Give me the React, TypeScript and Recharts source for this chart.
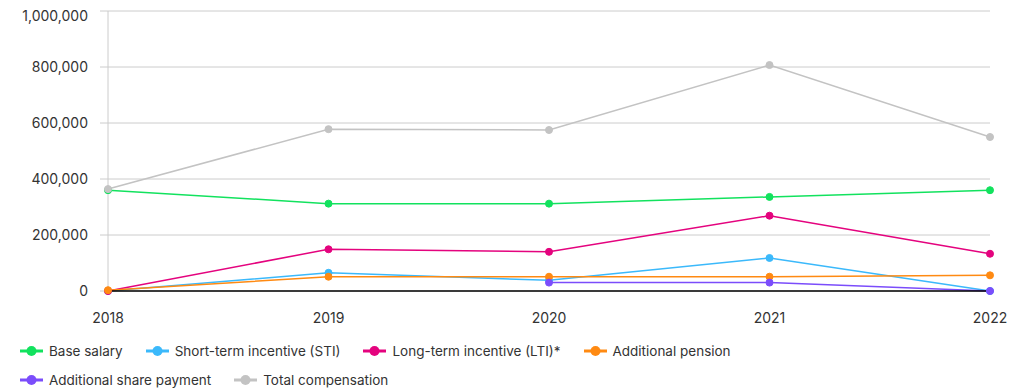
import { LineChart, Line, XAxis, YAxis, CartesianGrid } from "recharts";

const years = ["2018", "2019", "2020", "2021", "2022"];

const baseSalary = [360000, 312000, 312000, 336000, 360000];
const shortTerm = [0, 65000, 38000, 118000, 0];
const longTerm = [0, 149000, 140000, 269000, 133000];
const additionalPension = [3000, 51000, 51000, 51000, 56000];
const sharePayment = [null, null, 30000, 30000, 0];
const totalComp = [364000, 578000, 575000, 807000, 550000];

const yTicks = [0, 200000, 400000, 600000, 800000, 1000000];

const series = [
  { key: "base", name: "Base salary", color: "#12e25e", values: baseSalary },
  { key: "sti", name: "Short-term incentive (STI)", color: "#3bb9fb", values: shortTerm },
  { key: "lti", name: "Long-term incentive (LTI)*", color: "#e4037e", values: longTerm },
  { key: "pension", name: "Additional pension", color: "#ff8a12", values: additionalPension },
  { key: "share", name: "Additional share payment", color: "#7b4dfb", values: sharePayment },
  { key: "total", name: "Total compensation", color: "#c3c3c3", values: totalComp },
];

const data = years.map((year, i) => {
  const row: Record<string, any> = { year };
  series.forEach((s) => {
    row[s.key] = s.values[i];
  });
  return row;
});

const font = "Inter, 'Noto Sans', sans-serif";
const textColor = "#333";

const LegendItem = ({ name, color }: { name: string; color: string }) => (
  <div style={{ display: "flex", alignItems: "center", marginRight: 23 }}>
    <svg width={23} height={12} style={{ marginRight: 6 }}>
      <line x1={0} y1={6} x2={23} y2={6} stroke={color} strokeWidth={3} />
      <circle cx={11.5} cy={6} r={5} fill={color} />
    </svg>
    <span>{name}</span>
  </div>
);

export default function App() {
  return (
    <div style={{ position: "relative", margin: "-8px 0 0 -8px", width: 1028, height: 390, fontFamily: font, color: textColor }}>
      <div style={{ position: "absolute", left: 8, top: 8 }}>
        <LineChart width={1012} height={323} data={data} margin={{ top: 3, right: 30, bottom: 0, left: 0 }}>
          <CartesianGrid vertical={false} stroke="#cccccc" strokeWidth={1} />
          <XAxis
            dataKey="year"
            height={40}
            axisLine={{ stroke: "#000", strokeWidth: 1.5 }}
            tickLine={false}
            tickMargin={16}
            tick={{ fill: textColor, fontSize: 14, fontFamily: font }}
            interval={0}
          />
          <YAxis
            width={100}
            domain={[0, 1000000]}
            ticks={yTicks}
            axisLine={{ stroke: "#cccccc" }}
            tickLine={{ stroke: "#cccccc" }}
            tickSize={8}
            tickMargin={12}
            tick={{ fill: textColor, fontSize: 14, fontFamily: font }}
            tickFormatter={(v: number) => v.toLocaleString("en-US")}
          />
          {series.map((s) => (
            <Line
              key={s.key}
              dataKey={s.key}
              name={s.name}
              type="linear"
              stroke={s.color}
              strokeWidth={1.5}
              dot={{ r: 3.5, fill: s.color, stroke: s.color, strokeWidth: 1 }}
              activeDot={false}
              connectNulls={false}
              isAnimationActive={false}
            />
          ))}
        </LineChart>
      </div>
      <div
        style={{
          position: "absolute",
          left: 20,
          top: 342,
          width: 760,
          display: "flex",
          flexWrap: "wrap",
          rowGap: 11,
          fontSize: 13.5,
          lineHeight: "18px",
        }}
      >
        {series.map((s) => (
          <LegendItem key={s.key} name={s.name} color={s.color} />
        ))}
      </div>
    </div>
  );
}
